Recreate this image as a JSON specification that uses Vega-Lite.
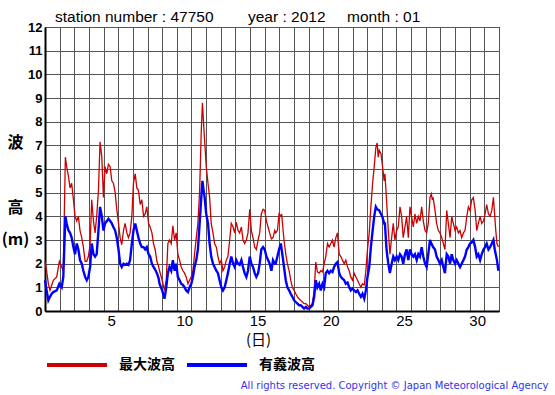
{
"$schema": "https://vega.github.io/schema/vega-lite/v6.json",
"width": 454, "height": 284,
"autosize": "none",
"padding": {"left": 45, "top": 27, "right": 56, "bottom": 84},
"background": "white",
"title": {"text": "station number : 47750\u00a0\u00a0\u00a0\u00a0\u00a0\u00a0\u00a0\u00a0year : 2012\u00a0\u00a0\u00a0\u00a0\u00a0month : 01", "anchor": "start", "frame": "group", "dx": 10, "dy": 21, "offset": 5, "baseline": "alphabetic", "font": "Liberation Sans", "fontSize": 15.5, "fontWeight": "normal", "color": "black"},
"config": {"view": {"stroke": "black", "strokeWidth": 1}, "axis": {"gridColor": "#555555", "gridOpacity": 1, "gridWidth": 1, "domainColor": "black", "domainWidth": 2}},
"data": {"values": [
{"t":1.00,"m":2.1,"s":1.3},{"t":1.11,"m":1.7,"s":0.87},{"t":1.23,"m":1.15,"s":0.45},{"t":1.34,"m":0.87,"s":0.6},{"t":1.46,"m":1.1,"s":0.73},{"t":1.57,"m":1.3,"s":0.8},{"t":1.80,"m":1.44,"s":0.87},{"t":1.98,"m":2.1,"s":1.15},{"t":2.14,"m":1.86,"s":1.0},{"t":2.25,"m":1.7,"s":1.44},
{"t":2.39,"m":6.5,"s":4.0},{"t":2.48,"m":6.1,"s":3.7},{"t":2.60,"m":5.7,"s":3.4},{"t":2.71,"m":5.2,"s":3.3},{"t":2.82,"m":5.4,"s":3.1},{"t":2.94,"m":4.7,"s":2.7},{"t":3.05,"m":4.0,"s":2.4},{"t":3.17,"m":3.8,"s":2.85},{"t":3.28,"m":4.0,"s":2.6},{"t":3.39,"m":3.4,"s":2.15},
{"t":3.51,"m":3.1,"s":2.0},{"t":3.62,"m":2.7,"s":1.7},{"t":3.74,"m":2.1,"s":1.44},{"t":3.85,"m":2.1,"s":1.3},{"t":3.96,"m":2.3,"s":1.44},{"t":4.08,"m":2.8,"s":1.86},{"t":4.19,"m":4.7,"s":2.85},{"t":4.31,"m":3.8,"s":2.4},{"t":4.42,"m":3.3,"s":2.3},{"t":4.53,"m":4.0,"s":2.4},
{"t":4.65,"m":5.1,"s":3.4},{"t":4.76,"m":7.15,"s":4.4},{"t":4.88,"m":6.5,"s":4.0},{"t":4.99,"m":4.8,"s":3.4},{"t":5.10,"m":6.1,"s":3.7},{"t":5.22,"m":5.8,"s":3.8},{"t":5.33,"m":6.2,"s":3.9},{"t":5.45,"m":6.1,"s":3.8},{"t":5.56,"m":5.5,"s":3.7},{"t":5.67,"m":5.4,"s":3.55},
{"t":5.79,"m":5.0,"s":3.4},{"t":5.90,"m":4.3,"s":3.1},{"t":6.02,"m":3.7,"s":2.6},{"t":6.13,"m":3.1,"s":2.0},{"t":6.24,"m":2.8,"s":1.86},{"t":6.36,"m":3.4,"s":2.0},{"t":6.47,"m":3.7,"s":1.95},{"t":6.59,"m":3.3,"s":2.0},{"t":6.70,"m":3.1,"s":1.95},{"t":6.81,"m":3.3,"s":2.15},
{"t":6.93,"m":4.0,"s":2.85},{"t":7.04,"m":5.4,"s":3.4},{"t":7.16,"m":5.8,"s":3.7},{"t":7.27,"m":5.2,"s":3.4},{"t":7.38,"m":5.1,"s":3.1},{"t":7.50,"m":4.5,"s":2.85},{"t":7.61,"m":4.7,"s":2.7},{"t":7.73,"m":4.0,"s":2.7},{"t":7.84,"m":4.1,"s":2.6},{"t":7.95,"m":4.4,"s":2.7},
{"t":8.07,"m":3.7,"s":2.4},{"t":8.18,"m":3.55,"s":2.3},{"t":8.30,"m":3.3,"s":2.0},{"t":8.41,"m":2.85,"s":1.86},{"t":8.52,"m":2.6,"s":1.75},{"t":8.64,"m":2.1,"s":1.6},{"t":8.75,"m":1.9,"s":1.4},
{"t":8.82,"m":1.7,"s":1.15},{"t":9.00,"m":1.3,"s":0.87},{"t":9.16,"m":0.87,"s":0.52},{"t":9.28,"m":1.3,"s":1.0},{"t":9.39,"m":2.85,"s":1.6},{"t":9.50,"m":3.0,"s":1.86},{"t":9.62,"m":2.85,"s":1.7},{"t":9.73,"m":3.6,"s":2.15},{"t":9.85,"m":3.0,"s":1.7},{"t":9.96,"m":3.3,"s":2.0},
{"t":10.07,"m":2.4,"s":1.44},{"t":10.19,"m":2.15,"s":1.3},{"t":10.30,"m":1.86,"s":1.15},{"t":10.42,"m":1.7,"s":1.1},{"t":10.53,"m":1.6,"s":1.0},{"t":10.64,"m":1.44,"s":0.87},{"t":10.76,"m":1.15,"s":0.8},{"t":10.87,"m":1.3,"s":1.0},{"t":10.99,"m":1.44,"s":1.15},{"t":11.10,"m":1.7,"s":1.44},
{"t":11.21,"m":2.4,"s":1.86},{"t":11.33,"m":3.1,"s":2.15},{"t":11.44,"m":3.7,"s":2.6},{"t":11.56,"m":5.1,"s":3.7},{"t":11.67,"m":7.6,"s":4.8},{"t":11.75,"m":8.8,"s":5.5},{"t":11.83,"m":7.9,"s":5.1},{"t":11.90,"m":7.2,"s":4.8},{"t":12.01,"m":6.1,"s":4.1},{"t":12.13,"m":5.4,"s":3.7},
{"t":12.24,"m":4.8,"s":2.85},{"t":12.35,"m":3.7,"s":2.3},{"t":12.47,"m":3.3,"s":2.0},{"t":12.58,"m":2.85,"s":1.86},{"t":12.70,"m":2.7,"s":1.7},{"t":12.81,"m":2.3,"s":1.6},{"t":12.92,"m":2.0,"s":1.3},{"t":13.04,"m":2.15,"s":1.0},{"t":13.15,"m":1.7,"s":0.87},{"t":13.27,"m":1.86,"s":1.0},
{"t":13.38,"m":2.15,"s":1.3},{"t":13.49,"m":2.3,"s":1.6},{"t":13.61,"m":3.0,"s":2.0},{"t":13.72,"m":3.7,"s":2.3},{"t":13.84,"m":3.55,"s":2.0},{"t":13.95,"m":3.3,"s":1.86},{"t":14.06,"m":3.75,"s":2.15},{"t":14.18,"m":3.4,"s":2.0},{"t":14.29,"m":3.3,"s":1.95},{"t":14.41,"m":3.55,"s":2.15},
{"t":14.52,"m":3.0,"s":1.86},{"t":14.63,"m":2.85,"s":1.6},{"t":14.75,"m":3.0,"s":1.44},{"t":14.86,"m":3.3,"s":1.7},{"t":14.98,"m":4.3,"s":2.3},{"t":15.09,"m":3.4,"s":2.0},{"t":15.20,"m":3.1,"s":1.86},{"t":15.32,"m":2.7,"s":1.6},{"t":15.43,"m":2.6,"s":1.44},{"t":15.55,"m":3.0,"s":1.6},
{"t":15.66,"m":3.3,"s":2.0},{"t":15.77,"m":4.1,"s":2.6},{"t":15.89,"m":4.3,"s":2.7},{"t":16.00,"m":4.25,"s":2.6},{"t":16.12,"m":3.8,"s":2.3},{"t":16.23,"m":3.55,"s":2.15},{"t":16.34,"m":3.3,"s":2.0},{"t":16.46,"m":3.05,"s":1.7},{"t":16.57,"m":3.1,"s":2.15},{"t":16.69,"m":3.4,"s":2.0},
{"t":16.75,"m":3.3,"s":2.0},{"t":16.87,"m":3.4,"s":2.3},{"t":16.98,"m":4.1,"s":2.6},{"t":17.10,"m":4.0,"s":2.85},{"t":17.16,"m":4.1,"s":2.6},{"t":17.26,"m":3.4,"s":2.15},{"t":17.32,"m":3.0,"s":1.86},{"t":17.44,"m":2.4,"s":1.3},{"t":17.55,"m":2.0,"s":1.0},{"t":17.67,"m":1.7,"s":0.87},
{"t":17.78,"m":1.3,"s":0.73},{"t":17.89,"m":1.0,"s":0.6},{"t":18.01,"m":0.87,"s":0.45},{"t":18.12,"m":0.73,"s":0.38},{"t":18.24,"m":0.6,"s":0.31},{"t":18.35,"m":0.52,"s":0.24},{"t":18.46,"m":0.45,"s":0.24},{"t":18.58,"m":0.38,"s":0.17},{"t":18.69,"m":0.31,"s":0.1},{"t":18.81,"m":0.31,"s":0.17},
{"t":18.92,"m":0.24,"s":0.1},{"t":19.03,"m":0.17,"s":0.1},{"t":19.15,"m":0.24,"s":0.17},{"t":19.26,"m":0.31,"s":0.24},{"t":19.38,"m":0.87,"s":0.6},{"t":19.49,"m":2.07,"s":1.3},{"t":19.60,"m":1.65,"s":1.0},{"t":19.72,"m":1.6,"s":1.15},{"t":19.83,"m":1.7,"s":0.87},{"t":19.95,"m":1.65,"s":1.15},
{"t":20.06,"m":2.0,"s":1.0},{"t":20.17,"m":2.3,"s":1.6},{"t":20.29,"m":2.85,"s":1.7},{"t":20.40,"m":2.7,"s":1.6},{"t":20.52,"m":2.85,"s":1.7},{"t":20.63,"m":3.0,"s":1.65},{"t":20.74,"m":2.7,"s":1.86},{"t":20.86,"m":3.1,"s":2.0},{"t":20.97,"m":3.3,"s":2.07},{"t":21.09,"m":2.4,"s":1.6},
{"t":21.20,"m":2.3,"s":1.44},{"t":21.31,"m":2.15,"s":1.37},{"t":21.43,"m":2.0,"s":1.3},{"t":21.54,"m":2.15,"s":1.15},{"t":21.66,"m":1.86,"s":1.2},{"t":21.77,"m":1.7,"s":1.0},{"t":21.88,"m":1.44,"s":0.87},{"t":22.00,"m":1.3,"s":0.95},{"t":22.11,"m":1.6,"s":0.87},{"t":22.23,"m":1.44,"s":0.8},
{"t":22.34,"m":1.3,"s":0.87},{"t":22.45,"m":1.15,"s":0.73},{"t":22.57,"m":1.0,"s":0.6},{"t":22.68,"m":1.15,"s":0.73},{"t":22.80,"m":1.1,"s":0.52},{"t":22.91,"m":1.7,"s":0.87},{"t":23.02,"m":2.6,"s":1.44},{"t":23.14,"m":3.3,"s":1.86},{"t":23.25,"m":4.4,"s":2.7},{"t":23.37,"m":5.4,"s":3.4},
{"t":23.48,"m":6.1,"s":4.0},{"t":23.59,"m":6.9,"s":4.4},{"t":23.68,"m":7.1,"s":4.3},{"t":23.75,"m":6.5,"s":null},{"t":23.82,"m":6.8,"s":4.25},{"t":23.94,"m":6.65,"s":4.1},{"t":24.03,"m":6.2,"s":4.0},{"t":24.16,"m":5.5,"s":3.7},
{"t":24.21,"m":5.8,"s":3.7},{"t":24.32,"m":4.7,"s":2.6},{"t":24.44,"m":3.4,"s":2.0},{"t":24.55,"m":2.4,"s":1.6},{"t":24.67,"m":3.1,"s":2.0},{"t":24.78,"m":3.7,"s":2.3},{"t":24.89,"m":3.0,"s":2.15},{"t":25.01,"m":3.4,"s":2.3},{"t":25.12,"m":3.55,"s":2.15},{"t":25.24,"m":4.4,"s":2.4},
{"t":25.35,"m":4.0,"s":2.3},{"t":25.46,"m":3.1,"s":2.0},{"t":25.58,"m":3.55,"s":2.4},{"t":25.69,"m":4.0,"s":2.6},{"t":25.81,"m":3.1,"s":2.15},{"t":25.92,"m":4.4,"s":2.6},{"t":26.03,"m":4.0,"s":2.4},{"t":26.15,"m":3.55,"s":2.3},{"t":26.26,"m":4.1,"s":2.4},{"t":26.38,"m":3.7,"s":2.15},
{"t":26.49,"m":4.0,"s":2.4},{"t":26.60,"m":3.8,"s":2.3},{"t":26.72,"m":4.4,"s":2.7},{"t":26.83,"m":3.8,"s":2.3},{"t":26.95,"m":3.4,"s":2.0},{"t":27.06,"m":3.3,"s":1.86},{"t":27.17,"m":3.7,"s":2.4},{"t":27.29,"m":4.8,"s":3.0},{"t":27.38,"m":4.95,"s":2.85},{"t":27.45,"m":4.7,"s":null},
{"t":27.50,"m":4.8,"s":2.7},{"t":27.63,"m":4.25,"s":2.6},{"t":27.74,"m":3.7,"s":2.3},{"t":27.86,"m":3.4,"s":2.15},{"t":27.97,"m":3.3,"s":2.0},{"t":28.09,"m":3.1,"s":2.15},{"t":28.20,"m":2.85,"s":1.86},{"t":28.31,"m":2.6,"s":1.6},{"t":28.43,"m":4.25,"s":2.4},{"t":28.54,"m":3.7,"s":2.3},
{"t":28.66,"m":3.1,"s":2.0},{"t":28.77,"m":4.0,"s":2.4},{"t":28.88,"m":3.7,"s":2.15},{"t":29.00,"m":3.4,"s":2.0},{"t":29.11,"m":3.55,"s":2.15},{"t":29.23,"m":3.3,"s":2.0},{"t":29.34,"m":3.4,"s":1.86},{"t":29.45,"m":3.1,"s":2.0},{"t":29.57,"m":3.3,"s":2.15},{"t":29.68,"m":3.4,"s":2.3},
{"t":29.80,"m":4.0,"s":2.6},{"t":29.91,"m":4.4,"s":2.7},{"t":30.02,"m":4.25,"s":2.85},{"t":30.14,"m":4.7,"s":2.9},{"t":30.25,"m":4.8,"s":3.0},{"t":30.37,"m":4.25,"s":2.7},{"t":30.48,"m":3.4,"s":2.3},{"t":30.59,"m":3.7,"s":2.4},{"t":30.71,"m":4.0,"s":2.15},{"t":30.82,"m":3.7,"s":2.4},
{"t":30.94,"m":3.8,"s":2.6},{"t":31.05,"m":4.1,"s":2.7},{"t":31.16,"m":4.5,"s":2.85},{"t":31.28,"m":4.1,"s":2.6},{"t":31.39,"m":4.0,"s":2.7},{"t":31.51,"m":4.25,"s":2.85},{"t":31.62,"m":4.8,"s":3.0},{"t":31.71,"m":4.0,"s":2.6},{"t":31.78,"m":3.4,"s":null},{"t":31.86,"m":2.85,"s":2.15},{"t":31.96,"m":2.7,"s":1.7}
]},
"encoding": {
  "x": {"field": "t", "type": "quantitative", "scale": {"domain": [1, 32], "nice": false, "zero": false},
    "axis": {"values": [1,2,3,4,5,6,7,8,9,10,11,12,13,14,15,16,17,18,19,20,21,22,23,24,25,26,27,28,29,30,31,32],
      "grid": true, "ticks": false, "labelExpr": "datum.value % 5 == 0 && datum.value < 32 ? datum.value : ''",
      "labelOffset": 7.5, "labelFlush": false, "labelOverlap": false, "labelFont": "Liberation Sans", "labelFontSize": 15, "labelColor": "black", "labelPadding": 2,
      "title": "(日)", "titleFont": "Noto Sans CJK JP", "titleFontSize": 15, "titleFontWeight": "normal", "titleColor": "black",
      "titleX": 213, "titleY": 28, "titleAlign": "center", "titleBaseline": "middle"}}
},
"layer": [
  {"mark": {"type": "line", "color": "#cc0000", "strokeWidth": 1.3, "invalid": "filter"},
   "encoding": {
     "y": {"field": "m", "type": "quantitative", "scale": {"domain": [0, 12], "nice": false},
       "axis": {"orient": "left", "values": [0,1,2,3,4,5,6,7,8,9,10,11,12], "grid": true, "ticks": false, "labelFlush": false,
         "labelFont": "Liberation Sans", "labelFontWeight": "bold", "labelFontSize": 13, "labelColor": "black", "labelPadding": 3,
         "title": ["波", "\u200b", "高", "(m)"], "titleAngle": 0, "titleX": -30, "titleY": 115, "titleAlign": "center", "titleBaseline": "middle",
         "titleFont": "Noto Sans CJK JP", "titleFontSize": 16, "titleFontWeight": "bold", "titleLineHeight": 32.5, "titleColor": "black"}},
     "color": {"datum": "最大波高", "type": "nominal",
       "scale": {"domain": ["最大波高", "有義波高"], "range": ["#cc0000", "#0000ff"]},
       "legend": {"orient": "none", "legendX": 0, "legendY": 306, "direction": "horizontal", "title": null,
         "symbolType": "stroke", "symbolSize": 3600, "symbolStrokeWidth": 4, "labelOffset": 10, "columnPadding": 4,
         "labelFont": "Noto Sans CJK JP", "labelFontSize": 14, "labelFontWeight": "bold", "labelColor": "black", "padding": 0,
         "encode": {"symbols": {"update": {"strokeWidth": {"value": 4}}}}}}
   }},
  {"mark": {"type": "line", "color": "#0000ff", "strokeWidth": 2.4, "invalid": "filter"},
   "encoding": {
     "y": {"field": "s", "type": "quantitative",
       "axis": {"orient": "right", "labels": false, "ticks": false, "grid": false, "domain": false,
         "title": "All rights reserved. Copyright © Japan Meteorological Agency", "titleAngle": 0, "titleX": 49, "titleY": 358,
         "titleAlign": "right", "titleBaseline": "middle", "titleColor": "#3333ee", "titleFont": "DejaVu Sans", "titleFontSize": 10, "titleFontWeight": "normal"}},
     "color": {"datum": "有義波高", "type": "nominal"}
   }}
],
"resolve": {"axis": {"y": "independent"}}
}
